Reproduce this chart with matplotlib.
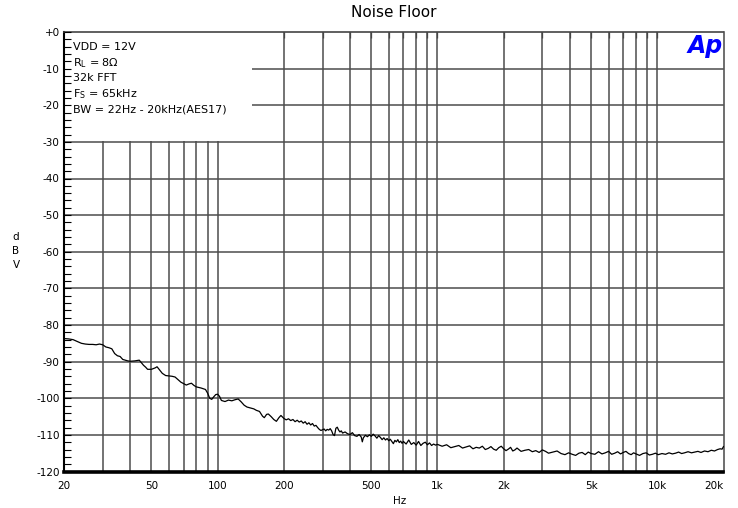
import numpy as np
import matplotlib
matplotlib.use("Agg")
import matplotlib.pyplot as plt
from matplotlib.patches import Rectangle

plt.rcParams['font.family'] = ['DejaVu Sans']

# ---------------- data ----------------
freq_low = [20, 21, 22, 23, 24, 25, 26, 27, 28, 29, 30, 31, 32, 33, 34, 35, 36, 37, 38, 39,
            40, 42, 44, 45, 46, 47, 48, 50, 52, 53, 54, 56, 58, 60, 62, 64, 66, 68, 70, 72,
            74, 76, 78, 80, 84, 88, 90, 92, 94, 96, 98, 100, 102, 104, 108, 112, 116, 120,
            124, 128, 132, 136, 140, 146, 150, 155, 160, 163, 167, 170, 175, 180, 185, 190, 194]
level_low = [-83.7, -83.8, -84.0, -84.5, -85.0, -85.2, -85.3, -85.3, -85.4, -85.2, -85.4, -86.0,
             -86.2, -86.5, -87.8, -88.4, -88.6, -89.4, -89.6, -89.8, -89.9, -89.8, -89.6, -90.3,
             -91.0, -91.5, -92.1, -92.1, -91.7, -91.4, -92.0, -93.2, -93.8, -93.9, -94.0, -94.2,
             -94.9, -95.6, -96.0, -96.4, -96.1, -95.9, -96.5, -96.9, -97.2, -97.6, -98.6, -100.0,
             -100.3, -99.6, -99.0, -98.9, -99.5, -100.6, -100.9, -100.5, -100.7, -100.4, -100.2,
             -101.0, -101.9, -102.4, -102.6, -102.9, -103.3, -103.6, -104.9, -105.3, -104.4,
             -104.3, -105.0, -105.8, -106.3, -105.3, -104.7]

freq_mid = [200, 205, 210, 215, 220, 225, 230, 235, 240, 245, 250, 255, 260, 265, 270, 275, 280,
            285, 290, 295, 300, 305, 310, 315, 320, 325, 330, 335, 340, 345, 350, 355, 360, 365,
            370, 380, 390, 400, 410, 420, 430, 440, 450, 455, 460, 470, 480, 490, 500, 510, 520,
            530, 540, 550, 560, 570, 580, 590, 600, 610, 620, 630, 640, 650, 660, 670, 680, 690,
            700, 720, 740, 760, 780, 800, 820, 840, 860, 880, 900, 920, 940, 960, 980, 1000]
level_mid = [-105.5, -105.9, -105.6, -106.1, -105.8, -106.4, -106.0, -106.5, -106.2, -106.8,
             -106.4, -107.1, -106.7, -107.3, -106.9, -107.6, -107.4, -108.0, -108.5, -108.8,
             -108.6, -108.4, -108.9, -108.5, -108.7, -108.3, -108.9, -109.9, -110.2, -108.2,
             -107.9, -108.7, -109.2, -108.9, -109.5, -109.2, -109.7, -109.9, -109.4, -110.2,
             -110.4, -109.9, -110.6, -111.9, -110.8, -110.1, -110.5, -110.0, -110.4, -109.8,
             -110.3, -110.9, -110.2, -110.7, -111.3, -110.8, -111.4, -111.0, -111.6, -111.2,
             -111.8, -112.4, -111.5, -111.9, -111.3, -112.1, -111.7, -112.3, -111.8, -112.5,
             -111.4, -112.6, -112.1, -112.8, -111.8, -112.9, -112.3, -112.0, -112.7, -112.2,
             -112.9, -112.5, -112.8, -112.6]

freq_high = [1050, 1100, 1150, 1200, 1250, 1300, 1350, 1400, 1450, 1500,
             1550, 1600, 1650, 1700, 1750, 1800, 1850, 1900, 1950, 2000,
             2050, 2100, 2150, 2200, 2250, 2300, 2400, 2500, 2600, 2700,
             2800, 2900, 3000, 3100, 3200, 3350, 3500, 3650, 3800, 3950,
             4100, 4250, 4400, 4550, 4700, 4850, 5000, 5200, 5400, 5600,
             5800, 6000, 6200, 6400, 6600, 6800, 7000, 7200, 7400, 7600,
             7800, 8000, 8300, 8600, 8900, 9200, 9500, 9800, 10100, 10500,
             10900, 11300, 11700, 12100, 12500, 12900, 13300, 13800, 14300, 14800,
             15300, 15800, 16400, 17000, 17600, 18200, 18800, 19300, 19700, 20000]
level_high = [-113.1, -112.7, -113.5, -113.2, -112.9, -113.6, -113.3, -113.0, -113.8, -113.4,
              -113.6, -113.1, -114.0, -113.7, -113.2, -113.9, -114.2, -113.5, -113.1, -113.8,
              -114.3, -113.9, -113.4, -114.4, -114.1, -113.6, -114.5, -114.2, -114.0, -114.6,
              -114.3, -114.8, -114.1, -114.5, -115.0, -114.7, -114.4, -115.1, -115.4, -114.9,
              -115.3, -115.6, -115.0, -114.8, -115.4, -114.7, -115.1, -115.3, -114.6, -115.2,
              -114.9, -114.5, -115.3, -115.0, -114.6, -115.2, -114.8, -114.5, -115.1, -115.4,
              -114.9, -115.2, -115.6, -115.1, -114.9, -115.5, -115.3, -115.0, -115.4, -115.1,
              -115.3, -114.9, -115.2, -115.0, -114.7, -115.1, -114.9, -114.6, -114.9, -114.7,
              -114.5, -114.8, -114.4, -114.6, -114.2, -114.4, -114.0, -113.8, -113.9, -113.2]

x_grid = [30, 40, 50, 60, 70, 80, 90, 100, 200, 300, 400, 500, 600, 700, 800, 900, 1000,
          2000, 3000, 4000, 5000, 6000, 7000, 8000, 9000, 10000]
x_ticks = [20, 50, 100, 200, 500, 1000, 2000, 5000, 10000, 20000]
x_labels = ["20", "50", "100", "200", "500", "1k", "2k", "5k", "10k", "20k"]
y_ticks = [0, -10, -20, -30, -40, -50, -60, -70, -80, -90, -100, -110, -120]
y_labels = ["+0", "-10", "-20", "-30", "-40", "-50", "-60", "-70", "-80", "-90", "-100", "-110", "-120"]
legend_lines = ["VDD = 12V", r"R$_\mathregular{L}$ = 8$\Omega$", "32k FFT",
                r"F$_\mathregular{S}$ = 65kHz", "BW = 22Hz - 20kHz(AES17)"]

freq = freq_low + freq_mid + freq_high
level = level_low + level_mid + level_high

# ---------------- figure ----------------
fig = plt.figure(figsize=(7.38, 5.08), dpi=100)
ax = fig.add_axes([64 / 738, 1 - 471.5 / 508, (723.5 - 64) / 738, (471.5 - 32) / 508])
ax.set_xscale('log')
ax.set_xlim(20, 20000)
ax.set_ylim(-120, 0)

grid_col = '#4d4d4d'
for xv in x_grid:
    ax.axvline(xv, color=grid_col, lw=1.1, zorder=1)
for yv in y_ticks[1:-1]:
    ax.axhline(yv, color=grid_col, lw=1.1, zorder=1)

# white legend box hiding the grid
ax.add_patch(Rectangle((0, 0.753), (252 - 64) / 659.5, 0.247, transform=ax.transAxes,
                       facecolor='white', edgecolor='none', zorder=2))

ax.plot(freq, level, color='black', lw=0.9, zorder=3)

for i, line in enumerate(legend_lines):
    ax.text(0.013, 0.966 - i * 0.0358, line, transform=ax.transAxes, fontsize=8,
            va='center', ha='left', zorder=4)

ax.text(0.998, 0.995, "Ap", transform=ax.transAxes, color='#0000ff', fontsize=17,
        fontweight='bold', fontstyle='italic', ha='right', va='top', zorder=4)

ax.set_axisbelow(False)
ax.set_xticks(x_ticks)
ax.set_xticklabels(x_labels, fontsize=7.5)
ax.xaxis.set_minor_locator(matplotlib.ticker.NullLocator())
ax.tick_params(axis='x', which='major', length=0, pad=7)
xl = ax.get_xticklabels()
xl[-1].set_horizontalalignment('right')

ax.set_yticks(y_ticks)
ax.set_yticklabels(y_labels, fontsize=7.5)
ax.set_yticks(np.arange(-120, 1, 2), minor=True)
ax.tick_params(axis='y', which='both', direction='in', length=5, width=0.8, pad=3)

# top ticks in the box region
sec = ax.secondary_xaxis('top')
sec.set_xticks(x_grid)
sec.set_xticklabels([])
sec.xaxis.set_minor_locator(matplotlib.ticker.NullLocator())
sec.tick_params(direction='in', length=4, width=0.9, color='#333333')
sec.spines['top'].set_visible(False)

ax.spines['left'].set_linewidth(1.5)
ax.spines['bottom'].set_linewidth(2.6)
ax.spines['top'].set_color('#444444')
ax.spines['top'].set_linewidth(1.2)
ax.spines['right'].set_color('#555555')
ax.spines['right'].set_linewidth(1.2)

fig.text(0.5 * (64 + 723.5) / 738, 1 - 12.5 / 508, "Noise Floor", fontsize=11,
         ha='center', va='center')
ax.set_xlabel("Hz", fontsize=7.5)
ax.xaxis.set_label_coords((400 - 64) / 659.5, -0.055)
fig.text(16 / 738, 1 - 251 / 508, "d\nB\nV", fontsize=7.5, ha='center', va='center',
         linespacing=1.55)

fig.savefig("out.png", dpi=100)
